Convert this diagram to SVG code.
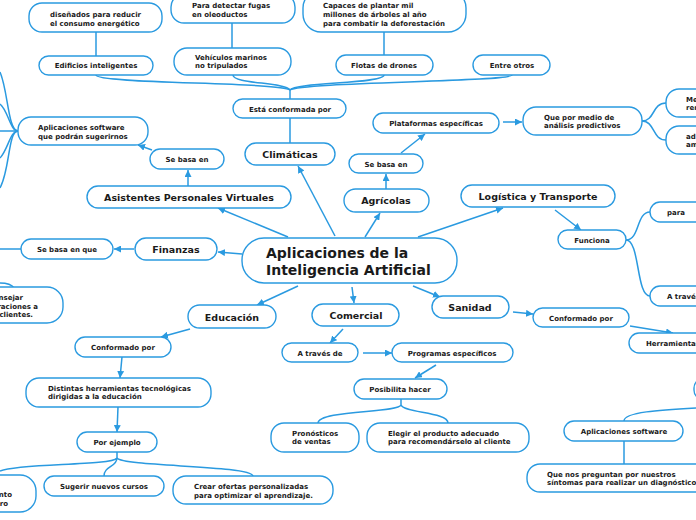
<svg xmlns="http://www.w3.org/2000/svg" width="696" height="520" viewBox="0 0 696 520">
<defs>
<style>
.b{fill:#fff;stroke:#2a9ae0;stroke-width:1.4}
.c{fill:none;stroke:#2a9ae0;stroke-width:1.5}
.a{fill:none;stroke:#2a9ae0;stroke-width:1.5;marker-end:url(#ah)}
text{font-family:"DejaVu Sans",Verdana,sans-serif;font-weight:bold;fill:#1a1a1a}
.s{font-size:7px}
.m{font-size:9.5px}
.l{font-size:14px}
.mid{text-anchor:middle}
.end{text-anchor:end}
</style>
<marker id="ah" viewBox="0 0 10 10" refX="10" refY="5" markerWidth="7" markerHeight="7" markerUnits="userSpaceOnUse" orient="auto"><path d="M0,0 L10,5 L0,10 z" fill="#2a9ae0"/></marker>
</defs>
<rect width="696" height="520" fill="#fff"/>
<g id="connectors">
<path class="c" d="M96,32 V56"/>
<path class="c" d="M232,23 V48"/>
<path class="c" d="M384,32 V55"/>
<path class="c" d="M96,75 C96,84 280,82 290,90"/>
<path class="c" d="M233,75 C233,84 285,82 290,90"/>
<path class="c" d="M384,75 C384,84 295,82 290,90"/>
<path class="c" d="M512,75 C512,82 300,82 290,90"/>
<path class="c" d="M290,90 V99"/>
<path class="c" d="M290,118 V143"/>
<path class="a" d="M335,236 L298,166"/>
<path class="a" d="M365,237 L380,213"/>
<path class="a" d="M386,189 L386,174"/>
<path class="a" d="M401,153 L425,134"/>
<path class="a" d="M503,122 L522,122"/>
<path class="c" d="M642,121 C655,121 652,103 666,103"/>
<path class="c" d="M642,121 C655,121 652,140 666,140"/>
<path class="a" d="M288,237 L218,208"/>
<path class="a" d="M188,186 L188,170"/>
<path class="a" d="M152,150 L138,145"/>
<path class="c" d="M18,131 C8,131 8,90 0,72"/>
<path class="c" d="M18,131 C10,131 8,110 0,104"/>
<path class="c" d="M18,131 H0"/>
<path class="c" d="M18,131 C10,131 8,150 0,158"/>
<path class="c" d="M18,131 C8,131 10,170 0,188"/>
<path class="a" d="M242,254 L218,252"/>
<path class="a" d="M134,249 L114,249"/>
<path class="c" d="M21,249 H0"/>
<path class="c" d="M0,283 C8,283 12,285 14,288"/>
<path class="a" d="M418,237 L503,208"/>
<path class="a" d="M555,210 L581,230"/>
<path class="c" d="M626,240 C640,240 636,212 650,212"/>
<path class="c" d="M626,240 C640,240 636,296 650,296"/>
<path class="a" d="M413,286 L440,297"/>
<path class="a" d="M513,312 L533,314"/>
<path class="a" d="M630,326 L673,333"/>
<path class="a" d="M352,287 L354,303"/>
<path class="a" d="M343,329 L330,343"/>
<path class="a" d="M363,353 L392,353"/>
<path class="a" d="M436,365 L415,378"/>
<path class="c" d="M401,399 V405 C398,413 318,410 318,423"/>
<path class="c" d="M401,405 C404,413 448,412 448,423"/>
<path class="c" d="M624,421 C624,412 660,410 696,408"/>
<path class="c" d="M624,441 V464"/>
<path class="a" d="M298,286 L257,305"/>
<path class="a" d="M190,329 L161,337"/>
<path class="a" d="M122,357 L120,378"/>
<path class="a" d="M118,407 L117,432"/>
<path class="c" d="M117,452 V458 C112,466 20,463 0,471"/>
<path class="c" d="M117,458 C117,467 104,466 104,476"/>
<path class="c" d="M117,458 C124,467 250,465 253,476"/>
</g>
<g id="n-disenados"><rect class="b" x="29" y="3" width="133" height="29" rx="13"/><text class="s" x="50" y="16.5">diseñados para reducir</text><text class="s" x="50" y="25.5">el consumo energético</text></g>
<g id="n-edificios"><rect class="b" x="39" y="56" width="114" height="19" rx="9.5"/><text class="s mid" x="96" y="68">Edificios inteligentes</text></g>
<g id="n-fugas"><rect class="b" x="171" y="-6" width="124" height="29" rx="13"/><text class="s" x="192" y="8">Para detectar fugas</text><text class="s" x="192" y="16.5">en oleoductos</text></g>
<g id="n-vehiculos"><rect class="b" x="174" y="48" width="117" height="27" rx="13"/><text class="s" x="195" y="59.5">Vehículos marinos</text><text class="s" x="195" y="67.5">no tripulados</text></g>
<g id="n-capaces"><rect class="b" x="303" y="-10" width="163" height="42" rx="18"/><text class="s" x="323" y="7.5">Capaces de plantar mil</text><text class="s" x="323" y="16.5">millones de árboles al año</text><text class="s" x="323" y="25.5">para combatir la deforestación</text></g>
<g id="n-flotas"><rect class="b" x="336" y="55" width="97" height="20" rx="10"/><text class="s mid" x="384" y="67.5">Flotas de drones</text></g>
<g id="n-entre"><rect class="b" x="473" y="55" width="77" height="20" rx="10"/><text class="s mid" x="512" y="67.5">Entre otros</text></g>
<g id="n-esta"><rect class="b" x="233" y="99" width="113" height="19" rx="9.5"/><text class="s mid" x="290" y="111.5">Está conformada por</text></g>
<g id="n-climaticas"><rect class="b" x="245" y="143" width="90" height="22" rx="11"/><text class="m mid" x="290" y="157.5">Climáticas</text></g>
<g id="n-sebasa-agr"><rect class="b" x="349" y="154" width="74" height="19" rx="9.5"/><text class="s mid" x="386" y="166.5">Se basa en</text></g>
<g id="n-plataformas"><rect class="b" x="373" y="113" width="126" height="20" rx="10"/><text class="s mid" x="436" y="125.5">Plataformas específicas</text></g>
<g id="n-quepor"><rect class="b" x="523" y="107" width="119" height="28" rx="13"/><text class="s" x="544" y="119.5">Que por medio de</text><text class="s" x="544" y="128">análisis predictivos</text></g>
<g id="n-me"><rect class="b" x="666" y="89" width="60" height="28" rx="13"/><text class="s" x="686" y="101.5">Me</text><text class="s" x="686" y="109.5">rem</text></g>
<g id="n-ad"><rect class="b" x="666" y="126" width="60" height="28" rx="13"/><text class="s" x="686" y="138.5">ad</text><text class="s" x="686" y="146.5">am</text></g>
<g id="n-aplic-sug"><rect class="b" x="18" y="117" width="130" height="28" rx="13"/><text class="s" x="38" y="130">Aplicaciones software</text><text class="s" x="38" y="138.5">que podrán sugerirnos</text></g>
<g id="n-sebasa-apv"><rect class="b" x="150" y="149" width="74" height="20" rx="10"/><text class="s mid" x="187" y="161.5">Se basa en</text></g>
<g id="n-asistentes"><rect class="b" x="87" y="186" width="204" height="22" rx="11"/><text class="m mid" x="189" y="200.5">Asistentes Personales Virtuales</text></g>
<g id="n-sebasaque"><rect class="b" x="21" y="239" width="92" height="20" rx="10"/><text class="s mid" x="67" y="251.5">Se basa en que</text></g>
<g id="n-finanzas"><rect class="b" x="135" y="238" width="82" height="22" rx="11"/><text class="m mid" x="176" y="252.5">Finanzas</text></g>
<g id="n-aconsejar"><rect class="b" x="-60" y="287" width="123" height="36" rx="16"/><text class="s end" x="23" y="299.5">nsejar</text><text class="s end" x="38" y="308.5">raciones a</text><text class="s end" x="33" y="316.5">clientes.</text></g>
<g id="n-center"><rect class="b" x="242" y="238" width="215" height="45" rx="22"/><text class="l" x="266" y="258">Aplicaciones de la</text><text class="l" x="266" y="274.5">Inteligencia Artificial</text></g>
<g id="n-agricolas"><rect class="b" x="344" y="189" width="85" height="23" rx="11.5"/><text class="m mid" x="386" y="204">Agrícolas</text></g>
<g id="n-logistica"><rect class="b" x="461" y="185" width="154" height="22" rx="11"/><text class="m mid" x="538" y="199.5">Logística y Transporte</text></g>
<g id="n-funciona"><rect class="b" x="558" y="230" width="68" height="19" rx="9.5"/><text class="s mid" x="592" y="242.5">Funciona</text></g>
<g id="n-para"><rect class="b" x="650" y="202" width="70" height="20" rx="10"/><text class="s" x="667" y="214.5">para</text></g>
<g id="n-atraves-log"><rect class="b" x="650" y="286" width="70" height="20" rx="10"/><text class="s" x="667" y="298.5">A través</text></g>
<g id="n-sanidad"><rect class="b" x="432" y="296" width="77" height="22" rx="11"/><text class="m mid" x="470" y="310.5">Sanidad</text></g>
<g id="n-conf-san"><rect class="b" x="533" y="308" width="96" height="19" rx="9.5"/><text class="s mid" x="581" y="320.5">Conformado por</text></g>
<g id="n-herramientas"><rect class="b" x="629" y="333" width="80" height="20" rx="10"/><text class="s" x="646" y="345.5">Herramientas</text></g>
<g id="n-edge"><rect class="b" x="694" y="378" width="40" height="22" rx="10"/></g>
<g id="n-comercial"><rect class="b" x="312" y="304" width="87" height="22" rx="11"/><text class="m mid" x="356" y="318.5">Comercial</text></g>
<g id="n-educacion"><rect class="b" x="188" y="305" width="88" height="23" rx="11.5"/><text class="m mid" x="232" y="320.5">Educación</text></g>
<g id="n-atraves-com"><rect class="b" x="282" y="343" width="76" height="19" rx="9.5"/><text class="s mid" x="320" y="355.5">A través de</text></g>
<g id="n-programas"><rect class="b" x="392" y="343" width="121" height="19" rx="9.5"/><text class="s mid" x="452" y="355.5">Programas específicos</text></g>
<g id="n-posibilita"><rect class="b" x="354" y="379" width="93" height="20" rx="10"/><text class="s mid" x="400" y="391.5">Posibilita hacer</text></g>
<g id="n-pronosticos"><rect class="b" x="271" y="423" width="88" height="29" rx="13"/><text class="s" x="292" y="435.5">Pronósticos</text><text class="s" x="292" y="444">de ventas</text></g>
<g id="n-elegir"><rect class="b" x="367" y="423" width="162" height="29" rx="13"/><text class="s" x="388" y="435.5">Elegir el producto adecuado</text><text class="s" x="388" y="444">para recomendárselo al cliente</text></g>
<g id="n-aplic-soft"><rect class="b" x="564" y="421" width="119" height="20" rx="10"/><text class="s mid" x="624" y="433.5">Aplicaciones software</text></g>
<g id="n-quenos"><rect class="b" x="527" y="464" width="190" height="28" rx="13"/><text class="s" x="547" y="476.5">Que nos preguntan por nuestros</text><text class="s" x="547" y="484.5">síntomas para realizar un diagnóstico</text></g>
<g id="n-conf-edu"><rect class="b" x="75" y="337" width="96" height="20" rx="10"/><text class="s mid" x="123" y="349.5">Conformado por</text></g>
<g id="n-distintas"><rect class="b" x="26" y="378" width="185" height="29" rx="13"/><text class="s" x="48" y="390.5">Distintas herramientas tecnológicas</text><text class="s" x="48" y="399">dirigidas a la educación</text></g>
<g id="n-porejemplo"><rect class="b" x="77" y="432" width="80" height="20" rx="10"/><text class="s mid" x="117" y="444.5">Por ejemplo</text></g>
<g id="n-sugerir"><rect class="b" x="44" y="476" width="120" height="20" rx="10"/><text class="s mid" x="104" y="488.5">Sugerir nuevos cursos</text></g>
<g id="n-crear"><rect class="b" x="173" y="476" width="160" height="28" rx="13"/><text class="s" x="194" y="489">Crear ofertas personalizadas</text><text class="s" x="194" y="497.5">para optimizar el aprendizaje.</text></g>
<g id="n-leftbottom"><rect class="b" x="-80" y="475" width="116" height="37" rx="16"/><text class="s end" x="12" y="496.5">nto</text><text class="s end" x="8" y="505.5">ro</text></g>
</svg>
